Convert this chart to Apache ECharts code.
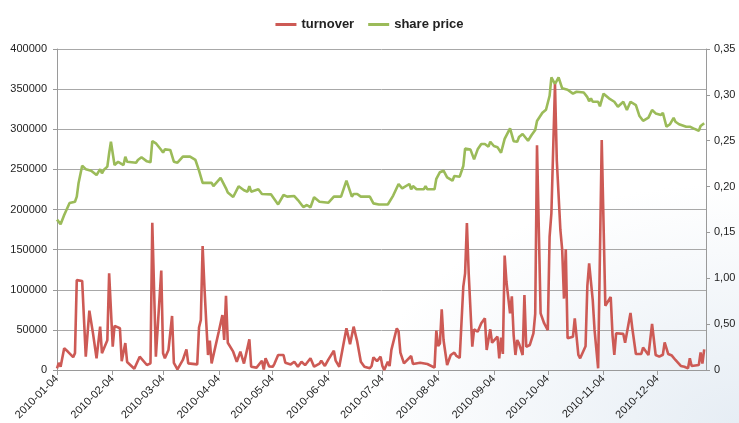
<!DOCTYPE html>
<html>
<head>
<meta charset="utf-8">
<script src="https://cdn.jsdelivr.net/npm/echarts@6/dist/echarts.min.js"></script>
<style>
html,body{margin:0;padding:0;background:#fff;}
#chart{width:739px;height:423px;background:radial-gradient(ellipse 380px 240px at 100% 100%, #e6edf4 0%, rgba(255,255,255,0) 100%), #fff;}
</style>
</head>
<body>
<div id="chart"></div>
<script>
// ---- data ----
const seriesNames = ['turnover', 'share price'];

const xTickDates = ['2010-01-04','2010-02-04','2010-03-04','2010-04-04','2010-05-04','2010-06-04',
  '2010-07-04','2010-08-04','2010-09-04','2010-10-04','2010-11-04','2010-12-04'];
const xRange = ['2010-01-04', '2010-12-31'];

const leftTicks = { min: 0, max: 400000, step: 50000 };
const rightTickLabels = ['0','0,50','1,00','0,15','0,20','0,25','0,30','0,35'];

const turnoverDates = [
  '2010-01-04','2010-01-05','2010-01-06','2010-01-08','2010-01-10','2010-01-13','2010-01-14','2010-01-15','2010-01-18','2010-01-20','2010-01-22','2010-01-24','2010-01-26','2010-01-28','2010-01-29',
  '2010-02-01','2010-02-02','2010-02-03','2010-02-04','2010-02-05','2010-02-08','2010-02-09','2010-02-11','2010-02-12','2010-02-16','2010-02-19','2010-02-23','2010-02-25','2010-02-26','2010-02-28',
  '2010-03-03','2010-03-04','2010-03-05','2010-03-07','2010-03-09','2010-03-10','2010-03-12','2010-03-15','2010-03-17','2010-03-18','2010-03-23','2010-03-24','2010-03-25','2010-03-26','2010-03-27','2010-03-28','2010-03-29','2010-03-30','2010-03-31',
  '2010-04-04','2010-04-06','2010-04-07','2010-04-08','2010-04-09','2010-04-12','2010-04-14','2010-04-16','2010-04-18','2010-04-21','2010-04-22','2010-04-25','2010-04-28','2010-04-29','2010-04-30',
  '2010-05-02','2010-05-04','2010-05-05','2010-05-07','2010-05-10','2010-05-11','2010-05-14','2010-05-16','2010-05-18','2010-05-20','2010-05-22','2010-05-25','2010-05-27','2010-05-30','2010-05-31',
  '2010-06-02','2010-06-04','2010-06-07','2010-06-08','2010-06-10','2010-06-14','2010-06-16','2010-06-18','2010-06-20','2010-06-22','2010-06-24','2010-06-27','2010-06-28','2010-06-29',
  '2010-07-01','2010-07-03','2010-07-04','2010-07-05','2010-07-07','2010-07-08','2010-07-09','2010-07-12','2010-07-13','2010-07-14','2010-07-16','2010-07-20','2010-07-21','2010-07-25','2010-07-29',
  '2010-08-02','2010-08-03','2010-08-04','2010-08-05','2010-08-06','2010-08-07','2010-08-09','2010-08-11','2010-08-13','2010-08-14','2010-08-16','2010-08-18','2010-08-19','2010-08-20','2010-08-21','2010-08-23','2010-08-24','2010-08-26','2010-08-28','2010-08-30','2010-08-31',
  '2010-09-02','2010-09-03','2010-09-06','2010-09-07','2010-09-08','2010-09-09','2010-09-10','2010-09-11','2010-09-13','2010-09-14','2010-09-15','2010-09-16','2010-09-17','2010-09-18','2010-09-20','2010-09-21','2010-09-22','2010-09-24','2010-09-26','2010-09-27','2010-09-28','2010-09-30',
  '2010-10-02','2010-10-04','2010-10-05','2010-10-06','2010-10-07','2010-10-08','2010-10-09','2010-10-11','2010-10-12','2010-10-13','2010-10-14','2010-10-15','2010-10-18','2010-10-19','2010-10-21','2010-10-22','2010-10-25','2010-10-26','2010-10-27','2010-10-29','2010-10-30',
  '2010-11-01','2010-11-03','2010-11-05','2010-11-06','2010-11-08','2010-11-09','2010-11-10','2010-11-11','2010-11-15','2010-11-16','2010-11-19','2010-11-20','2010-11-22','2010-11-23','2010-11-25','2010-11-26','2010-11-29',
  '2010-12-01','2010-12-02','2010-12-03','2010-12-05','2010-12-07','2010-12-08','2010-12-10','2010-12-12','2010-12-14','2010-12-17','2010-12-19','2010-12-21','2010-12-22','2010-12-23','2010-12-27','2010-12-28','2010-12-29','2010-12-30'
];
const turnoverValues = [
  2000,9000,4000,27000,23000,16000,21000,112000,111000,16600,74000,46000,14600,54000,21000,
  37000,120500,119600,29000,55000,52000,11000,33600,10000,1500,16600,6200,8300,183600,16600,
  124000,20800,14600,25000,67300,9000,900,12500,25800,8300,7000,53000,62300,154500,103800,60000,18700,36500,8300,
  48000,68500,37400,92400,34000,22800,10300,22800,8000,38200,4100,3000,11600,500,14600,
  4500,4000,8000,18700,18700,9000,7000,10300,4100,10300,6000,14600,4100,8000,11600,
  5000,13300,24000,11600,4100,52000,32000,54000,35300,10300,4100,2100,5000,15800,
  11000,16600,5000,0,10300,5000,25000,52000,48000,21600,8300,17400,7500,9000,7500,
  3000,49000,29900,33000,75600,37400,6200,18700,21600,18000,15000,103800,120500,183000,120500,29000,50700,47700,58200,64400,25000,
  50700,34000,41500,14600,40500,20000,142500,110000,70600,91800,43600,18700,37400,33000,18700,93500,29000,31200,45700,70000,280000,70600,
  58000,49800,166000,195300,196000,356000,261700,174500,150000,89000,150400,39500,41500,64400,18700,14600,29500,104700,133000,87200,50000,
  2100,286600,80000,82000,91000,43600,18700,45700,45000,34000,71000,52000,20000,22000,20000,28000,18700,
  57300,55000,18700,16600,19000,34500,19900,18000,12500,5000,4100,2100,14600,5000,6200,22000,8000,25800
];

const priceDates = [
  '2010-01-04','2010-01-06','2010-01-08','2010-01-11','2010-01-12','2010-01-14','2010-01-15','2010-01-16','2010-01-18','2010-01-20','2010-01-21','2010-01-23','2010-01-26','2010-01-27','2010-01-28','2010-01-29','2010-01-30',
  '2010-02-01','2010-02-02','2010-02-03','2010-02-05','2010-02-07','2010-02-08','2010-02-10','2010-02-11','2010-02-12','2010-02-17','2010-02-18','2010-02-20','2010-02-23','2010-02-25','2010-02-26','2010-02-28',
  '2010-03-03','2010-03-04','2010-03-05','2010-03-08','2010-03-10','2010-03-12','2010-03-15','2010-03-19','2010-03-22','2010-03-23','2010-03-24','2010-03-26','2010-03-31',
  '2010-04-01','2010-04-05','2010-04-08','2010-04-09','2010-04-12','2010-04-15','2010-04-18','2010-04-20','2010-04-21','2010-04-22','2010-04-26','2010-04-28',
  '2010-05-03','2010-05-07','2010-05-10','2010-05-12','2010-05-13','2010-05-16','2010-05-18','2010-05-21','2010-05-23','2010-05-25','2010-05-27','2010-05-30',
  '2010-06-04','2010-06-07','2010-06-11','2010-06-14','2010-06-17','2010-06-18','2010-06-20','2010-06-22','2010-06-27','2010-06-29',
  '2010-07-02','2010-07-07','2010-07-10','2010-07-13','2010-07-15','2010-07-19','2010-07-20','2010-07-21','2010-07-23','2010-07-27','2010-07-28','2010-07-29',
  '2010-08-02','2010-08-03','2010-08-05','2010-08-07','2010-08-09','2010-08-12','2010-08-13','2010-08-16','2010-08-18','2010-08-19','2010-08-22','2010-08-24','2010-08-26','2010-08-28','2010-08-30',
  '2010-09-01','2010-09-02','2010-09-04','2010-09-06','2010-09-08','2010-09-10','2010-09-13','2010-09-15','2010-09-17','2010-09-18','2010-09-20','2010-09-21','2010-09-23','2010-09-25','2010-09-27','2010-09-28','2010-09-29',
  '2010-10-01','2010-10-03','2010-10-05','2010-10-06','2010-10-08','2010-10-10','2010-10-12','2010-10-15','2010-10-18','2010-10-20','2010-10-24','2010-10-26','2010-10-27','2010-10-28','2010-10-29',
  '2010-11-01','2010-11-02','2010-11-04','2010-11-07','2010-11-10','2010-11-12','2010-11-15','2010-11-17','2010-11-19','2010-11-22','2010-11-24','2010-11-26','2010-11-29',
  '2010-12-01','2010-12-03','2010-12-06','2010-12-07','2010-12-09','2010-12-11','2010-12-13','2010-12-14','2010-12-16','2010-12-17','2010-12-20','2010-12-22','2010-12-24','2010-12-27','2010-12-28','2010-12-30'
];
const priceValues = [
  0.164,0.159,0.169,0.182,0.180,0.1835,0.189,0.204,0.2228,0.219,0.220,0.2173,0.2126,0.2108,0.219,0.2144,0.218,
  0.2217,0.2363,0.249,0.2235,0.227,0.229,0.2235,0.2326,0.2271,0.226,0.229,0.2319,0.2275,0.2265,0.2497,0.2472,
  0.2399,0.237,0.2406,0.2399,0.2271,0.226,0.2326,0.2326,0.229,0.2282,0.2173,0.204,0.204,
  0.2006,0.2095,0.1981,0.1935,0.1886,0.2003,0.196,0.1944,0.2006,0.1944,0.197,0.1919,
  0.1915,0.1805,0.1908,0.189,0.1908,0.1897,0.1853,0.1777,0.1799,0.1774,0.1883,0.1835,
  0.1824,0.189,0.189,0.2064,0.189,0.1919,0.1919,0.189,0.189,0.1817,
  0.1805,0.1805,0.1902,0.2028,0.1981,0.2028,0.197,0.2006,0.197,0.197,0.2006,0.197,
  0.197,0.2085,0.2157,0.2173,0.2101,0.2064,0.2115,0.2108,0.2224,0.2414,0.2403,0.2297,0.2406,0.2464,0.2464,
  0.2435,0.2489,0.2442,0.243,0.2369,0.252,0.2635,0.2495,0.2489,0.254,0.2573,0.2555,0.25,0.2562,0.2617,0.2715,0.273,
  0.2805,0.2838,0.299,0.3191,0.3118,0.3191,0.3071,0.3056,0.3013,0.3034,0.3025,0.2975,0.293,0.2962,0.2925,
  0.2925,0.2875,0.3013,0.2962,0.2925,0.2871,0.2925,0.2835,0.2925,0.2889,0.2769,0.2717,0.2752,
  0.2835,0.2798,0.278,0.2805,0.2653,0.268,0.275,0.2707,0.268,0.267,0.2653,0.2653,0.2635,0.2609,0.266,0.269
];

// ---- chart ----
function ts(s) { const p = s.split('-').map(Number); return new Date(p[0], p[1] - 1, p[2]).getTime(); }
function pairs(dates, values) { return dates.map((d, i) => [ts(d), values[i]]); }
function fmtDate(v) {
  const d = new Date(v);
  const mm = String(d.getMonth() + 1).padStart(2, '0');
  const dd = String(d.getDate()).padStart(2, '0');
  return d.getFullYear() + '-' + mm + '-' + dd;
}
const tickTs = xTickDates.map(ts);
const fontFamily = '"Liberation Sans", Arial, sans-serif';
const axisGray = '#9a9a9a';

const chart = echarts.init(document.getElementById('chart'), null, { renderer: 'canvas' });
chart.setOption({
  animation: false,
  backgroundColor: 'transparent',
  legend: {
    top: 13,
    left: 'center',
    itemWidth: 21,
    itemHeight: 3,
    itemGap: 14,
    icon: 'rect',
    textStyle: { fontFamily, fontSize: 13, fontWeight: 'bold', color: '#222' },
    data: seriesNames
  },
  grid: { left: 57, right: 33, top: 49, bottom: 53, containLabel: false },
  xAxis: {
    type: 'value',
    min: ts(xRange[0]),
    max: ts(xRange[1]),
    axisLine: { show: true, onZero: false, lineStyle: { color: axisGray, width: 1 } },
    axisTick: { show: true, customValues: tickTs, length: 5, lineStyle: { color: axisGray } },
    axisLabel: {
      customValues: tickTs,
      rotate: 45,
      margin: 7,
      fontFamily, fontSize: 11, color: '#222',
      formatter: v => fmtDate(v)
    },
    splitLine: { show: false }
  },
  yAxis: [
    {
      type: 'value', position: 'left',
      min: leftTicks.min, max: leftTicks.max, interval: leftTicks.step,
      axisLine: { show: true, lineStyle: { color: axisGray } },
      axisTick: { show: true, length: 4, lineStyle: { color: axisGray } },
      axisLabel: { fontFamily, fontSize: 11, color: '#222', margin: 10, formatter: v => String(v) },
      splitLine: { show: true, lineStyle: { color: '#a8a8a8', width: 1 } }
    },
    {
      type: 'value', position: 'right',
      min: 0, max: 0.35, interval: 0.05,
      axisLine: { show: true, lineStyle: { color: axisGray } },
      axisTick: { show: true, length: 4, lineStyle: { color: axisGray } },
      axisLabel: {
        fontFamily, fontSize: 11, color: '#222', margin: 8,
        formatter: v => rightTickLabels[Math.round(v / 0.05)]
      },
      splitLine: { show: false }
    }
  ],
  series: [
    {
      name: seriesNames[0], type: 'line', yAxisIndex: 0, z: 3,
      showSymbol: false, symbol: 'none',
      lineStyle: { color: '#cd5a55', width: 2.6 },
      itemStyle: { color: '#cd5a55' },
      data: pairs(turnoverDates, turnoverValues)
    },
    {
      name: seriesNames[1], type: 'line', yAxisIndex: 1, z: 2,
      showSymbol: false, symbol: 'none',
      lineStyle: { color: '#9bbb59', width: 2.6 },
      itemStyle: { color: '#9bbb59' },
      data: pairs(priceDates, priceValues)
    }
  ]
});
</script>
</body>
</html>
